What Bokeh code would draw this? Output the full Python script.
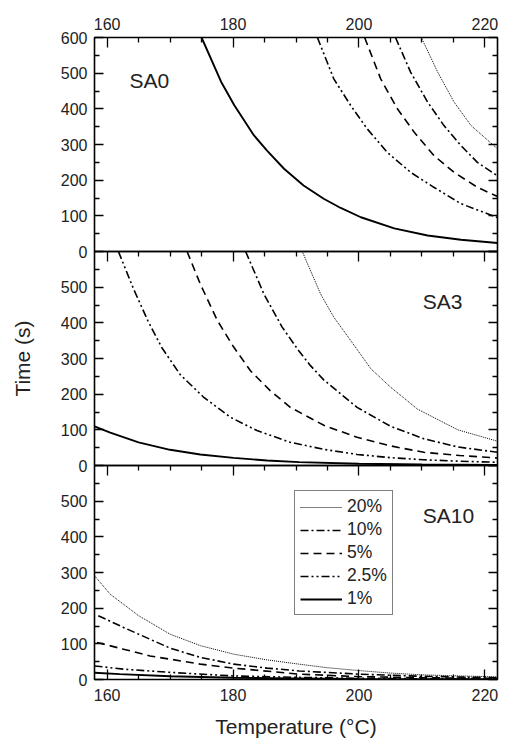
from bokeh.plotting import figure
from bokeh.models import (Range1d, LinearAxis, FixedTicker, Label, Legend, LegendItem)
from bokeh.layouts import column
from bokeh.embed import file_html
from bokeh.resources import INLINE

FONT = "Liberation Sans"

# ---------------- data ----------------
series_labels = ["20%", "10%", "5%", "2.5%", "1%"]
panel_names = ["SA0", "SA3", "SA10"]

# SA0
sa0_t_20 = [209.9, 212.5, 215.1, 217.8, 222.0]
sa0_v_20 = [600, 503, 419, 353, 288]
sa0_t_10 = [205.8, 208.2, 210.9, 213.5, 216.2, 218.8, 222.0]
sa0_v_10 = [600, 503, 419, 353, 297, 250, 212]
sa0_t_5 = [200.9, 203.45, 206.1, 208.75, 211.9, 215.1, 218.8, 222.0]
sa0_v_5 = [600, 484, 400, 335, 269, 222, 180, 154]
sa0_t_25 = [193.4, 196.0, 198.7, 201.3, 204.5, 208.2, 211.9, 216.2, 222.0]
sa0_v_25 = [600, 484, 409, 344, 278, 222, 180, 134, 95]
sa0_t_1 = [175.0, 178.1, 180.2, 183.3, 185.4, 188.1, 191.2, 194.4, 197.1, 200.3, 205.6, 210.9, 216.2, 222.0]
sa0_v_1 = [600, 476, 410, 326, 283, 232, 185, 148, 122, 96, 65, 45, 33, 24]

# SA3
sa3_t_20 = [191.0, 193.9, 196.0, 198.7, 201.9, 205.0, 209.3, 215.7, 222.0]
sa3_v_20 = [600, 481, 416, 350, 271, 220, 158, 100, 68]
sa3_t_10 = [182.0, 184.9, 187.8, 190.5, 192.3, 194.4, 199.7, 205.0, 210.3, 215.7, 222.0]
sa3_v_10 = [600, 481, 388, 320, 280, 240, 163, 110, 75, 52, 37]
sa3_t_5 = [172.7, 174.8, 177.5, 180.1, 182.8, 185.9, 189.1, 194.5, 199.7, 205.0, 210.3, 216.0, 222.0]
sa3_v_5 = [600, 509, 407, 332, 265, 210, 163, 112, 79, 55, 37, 28, 21]
sa3_t_25 = [161.8, 164.2, 166.5, 168.7, 171.6, 175.3, 179.6, 183.8, 189.1, 194.5, 199.7, 205.0, 210.3, 216.0, 222.0]
sa3_v_25 = [600, 495, 405, 330, 255, 192, 135, 98, 65, 45, 31, 22, 16, 12, 9]
sa3_t_1 = [158.0, 160.5, 165.0, 170.0, 174.8, 180.1, 185.4, 190.5, 200.0, 210.0, 222.0]
sa3_v_1 = [110, 92, 65, 44, 31, 21.5, 14, 9.5, 5, 2.8, 1.5]

# SA10
sa10_t_20 = [158.0, 160.5, 165.0, 170.0, 174.8, 180.1, 185.4, 190.5, 195.0, 200.0, 205.0, 210.0, 216.0, 222.0]
sa10_v_20 = [291, 239, 179, 127, 95, 71, 55, 43, 33, 25, 18, 13, 10, 7.5]
sa10_t_10 = [158.6, 162.6, 166.8, 170.0, 174.8, 180.1, 185.4, 190.5, 200.0, 210.0, 222.0]
sa10_v_10 = [179, 146, 113, 88, 62, 43, 32, 24, 15, 9, 5]
sa10_t_5 = [158.4, 162.6, 166.8, 170.0, 174.8, 180.1, 190.5, 200.0, 210.0, 222.0]
sa10_v_5 = [104, 85, 66, 57, 43, 32, 15, 8, 5, 3]
sa10_t_25 = [158.0, 162.6, 170.0, 180.0, 190.0, 200.0, 210.0, 222.0]
sa10_v_25 = [38, 29, 20, 10, 6, 3.5, 2, 1]
sa10_t_1 = [158.0, 162.0, 170.0, 180.0, 190.0, 200.0, 210.0, 222.0]
sa10_v_1 = [19, 15, 9, 5, 3, 1.5, 1, 0.5]

x_major = [160, 180, 200, 220]
x_minor = [165, 170, 175, 185, 190, 195, 205, 210, 215]
y_ticks_full = [0, 100, 200, 300, 400, 500, 600]
y_ticks_short = [0, 100, 200, 300, 400, 500]
y_minor = [50, 150, 250, 350, 450, 550]

# ---------------- styles ----------------
styles = {
    "20%": dict(line_dash="1 1", line_width=1.0),
    "10%": dict(line_dash="8 3 2 3", line_width=1.6),
    "5%": dict(line_dash="8 5", line_width=1.6),
    "2.5%": dict(line_dash="8 3 2 3 2 3", line_width=1.6),
    "1%": dict(line_dash="solid", line_width=1.9),
}
TXT = "#222222"


def tick_axis(ticks, minor, major_len, minor_len, labels=False):
    ax = LinearAxis(
        ticker=FixedTicker(ticks=ticks, minor_ticks=minor),
        major_tick_in=major_len, major_tick_out=0, minor_tick_in=minor_len, minor_tick_out=0,
        axis_line_color=None, major_tick_line_width=1.3, minor_tick_line_width=1.3,
        major_label_standoff=0,
    )
    if labels:
        ax.major_label_text_font = FONT
        ax.major_label_text_font_size = "16px"
        ax.major_label_text_color = TXT
    return ax


def plain_ticks(p, side, majors, minors, major_len, minor_len):
    # tick marks only (no labels): long marks and short marks
    p.add_layout(tick_axis([], majors, 0, major_len), side)
    p.add_layout(tick_axis([], minors, 0, minor_len), side)


def make_fig(height, top, bottom):
    p = figure(width=505, height=height, x_range=Range1d(158, 222), y_range=Range1d(0, 600),
               output_backend="svg", toolbar_location=None,
               x_axis_location=None, y_axis_location=None,
               min_border_left=94, min_border_right=8, min_border_top=top, min_border_bottom=bottom)
    p.xgrid.visible = False
    p.ygrid.visible = False
    p.outline_line_color = "black"
    p.outline_line_width = 1.6
    p.background_fill_alpha = 0
    p.border_fill_alpha = 0
    return p


def add_lines(p, data):
    rs = {}
    for lab in series_labels:
        t, v = data[lab]
        rs[lab] = p.line(t, v, line_color="black", **styles[lab])
    return rs


# ---------------- top panel ----------------
p1 = make_fig(259, 37, 8)
ax1 = tick_axis(x_major, x_minor, 10, 5, labels=True)
ax1.major_label_standoff = 8
p1.add_layout(ax1, "above")
ly1 = tick_axis(y_ticks_full, y_minor, 9, 5, labels=True)
ly1.major_label_standoff = 7
p1.add_layout(ly1, "left")
plain_ticks(p1, "right", y_ticks_full, y_minor, 9, 5)
add_lines(p1, {"20%": (sa0_t_20, sa0_v_20), "10%": (sa0_t_10, sa0_v_10), "5%": (sa0_t_5, sa0_v_5),
               "2.5%": (sa0_t_25, sa0_v_25), "1%": (sa0_t_1, sa0_v_1)})
p1.add_layout(Label(x=163.55, y=479.5, text=panel_names[0], text_font=FONT, text_font_size="21px",
                    text_color=TXT, text_baseline="alphabetic"))

# ---------------- middle panel ----------------
p2 = make_fig(230, 8, 8)
p2.margin = (-16, 0, 0, 0)
plain_ticks(p2, "above", x_major, x_minor, 10, 5)
ly2 = tick_axis(y_ticks_short, y_minor, 9, 5, labels=True)
ly2.major_label_standoff = 7
ly2.axis_label = "Time (s)"
ly2.axis_label_text_font = FONT
ly2.axis_label_text_font_size = "21px"
ly2.axis_label_text_font_style = "normal"
ly2.axis_label_text_color = TXT
ly2.axis_label_standoff = 24
p2.add_layout(ly2, "left")
plain_ticks(p2, "right", y_ticks_full, y_minor, 9, 5)
add_lines(p2, {"20%": (sa3_t_20, sa3_v_20), "10%": (sa3_t_10, sa3_v_10), "5%": (sa3_t_5, sa3_v_5),
               "2.5%": (sa3_t_25, sa3_v_25), "1%": (sa3_t_1, sa3_v_1)})
p2.add_layout(Label(x=216.45, y=460.7, text=panel_names[1], text_font=FONT, text_font_size="21px",
                    text_color=TXT, text_align="right", text_baseline="alphabetic"))

# ---------------- bottom panel ----------------
p3 = make_fig(284, 8, 62)
p3.margin = (-16, 0, 0, 0)
plain_ticks(p3, "above", x_major, x_minor, 10, 5)
bx = tick_axis(x_major, x_minor, 10, 5, labels=True)
bx.major_label_standoff = 9
bx.axis_label = "Temperature (°C)"
bx.axis_label_text_font = FONT
bx.axis_label_text_font_size = "21px"
bx.axis_label_text_font_style = "normal"
bx.axis_label_text_color = TXT
bx.axis_label_standoff = 11
p3.add_layout(bx, "below")
ly3 = tick_axis(y_ticks_short, y_minor, 9, 5, labels=True)
ly3.major_label_standoff = 7
p3.add_layout(ly3, "left")
plain_ticks(p3, "right", y_ticks_full, y_minor, 9, 5)
rs3 = add_lines(p3, {"20%": (sa10_t_20, sa10_v_20), "10%": (sa10_t_10, sa10_v_10), "5%": (sa10_t_5, sa10_v_5),
                     "2.5%": (sa10_t_25, sa10_v_25), "1%": (sa10_t_1, sa10_v_1)})
p3.add_layout(Label(x=218.3, y=459, text=panel_names[2], text_font=FONT, text_font_size="21px",
                    text_color=TXT, text_align="right", text_baseline="alphabetic"))

legend = Legend(items=[LegendItem(label=lab, renderers=[rs3[lab]]) for lab in series_labels],
                location=(200, 64), border_line_color="black", border_line_width=1,
                background_fill_color="white", background_fill_alpha=1.0,
                padding=5, spacing=2, margin=0, label_height=20, glyph_height=20, glyph_width=42,
                label_standoff=5, label_text_font=FONT, label_text_font_size="17.5px",
                label_text_color=TXT)
p3.add_layout(legend)

layout = column(p1, p2, p3, spacing=0)
open("out.html", "w").write(file_html(layout, INLINE))
